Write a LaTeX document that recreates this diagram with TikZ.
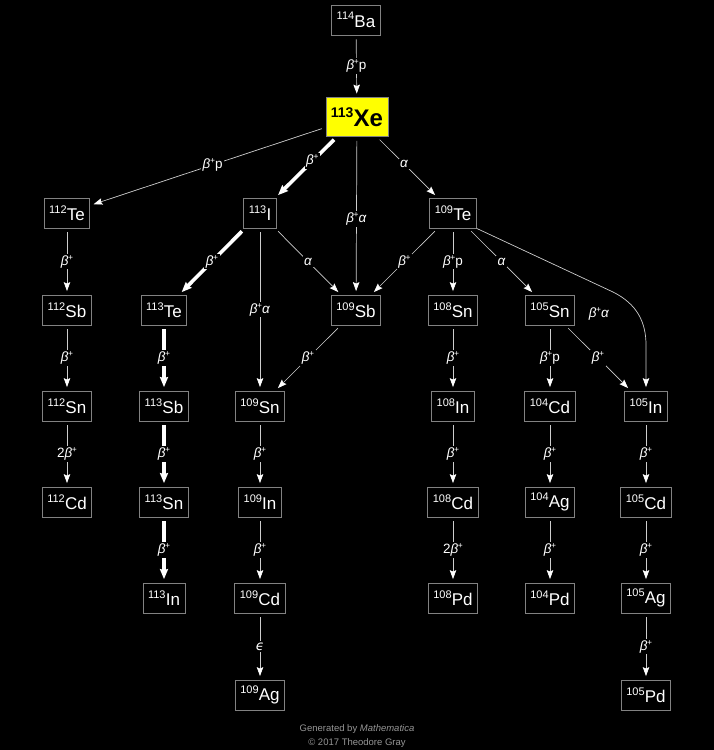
\documentclass[tikz,border=0pt]{standalone}
\usepackage{fontspec}
\setmainfont{Liberation Sans}
\newfontfamily\djv{DejaVu Sans}
\usetikzlibrary{arrows.meta}
\definecolor{edgegray}{RGB}{205,205,205}
\definecolor{boxgray}{RGB}{130,130,130}
\definecolor{footgray}{RGB}{150,150,150}
\definecolor{xeyellow}{RGB}{255,255,0}
\newcommand{\nuc}[2]{\raisebox{7.5pt}{\fontsize{11}{11}\selectfont #1}\kern0.2pt{\fontsize{17}{17}\selectfont #2}}
\newcommand{\bp}{\textit{β}\kern-0.3pt\raisebox{5pt}{\fontsize{8.5}{8.5}\selectfont +}}
\tikzset{
  nucbox/.style={draw=boxgray, fill=black, text=white, line width=0.8pt, minimum height=30pt, inner xsep=5pt, inner ysep=2pt},
  edge/.style={draw=edgegray, line width=0.7pt, -{Stealth[length=9pt,width=6.5pt,inset=1.5pt,color=white]}, shorten >=3.5pt, shorten <=4pt},
  thick edge/.style={draw=white, line width=3.6pt, -{Stealth[length=10pt,width=8pt,inset=1pt]}, shorten >=3.5pt, shorten <=4pt},
  lbl/.style={fill=black, text=white, font=\fontsize{13.5}{13.5}\selectfont, inner sep=1.5pt},
  foot/.style={text=footgray, font=\fontsize{9.5}{10}\selectfont, inner sep=0pt}
}
\begin{document}
\begin{tikzpicture}[x=1pt,y=-1pt]
\fill[black] (0,0) rectangle (714,750);
% nodes
\node[nucbox] (Ba114) at (356,20) {\nuc{114}{Ba}};
\node[draw=boxgray, fill=xeyellow, text=black, line width=0.8pt, minimum height=39pt, inner xsep=5pt, inner ysep=2pt] (Xe113) at (357,117)
  {\bfseries\raisebox{8.5pt}{\fontsize{14}{14}\selectfont 113}\kern0.2pt{\fontsize{24}{24}\selectfont Xe}};
\node[nucbox] (Te112) at (67,213) {\nuc{112}{Te}};
\node[nucbox] (I113) at (260,213) {\nuc{113}{I}};
\node[nucbox] (Te109) at (453,213) {\nuc{109}{Te}};
\node[nucbox] (Sb112) at (67,310) {\nuc{112}{Sb}};
\node[nucbox] (Te113) at (164,310) {\nuc{113}{Te}};
\node[nucbox] (Sb109) at (356,310) {\nuc{109}{Sb}};
\node[nucbox] (Sn108) at (453,310) {\nuc{108}{Sn}};
\node[nucbox] (Sn105) at (550,310) {\nuc{105}{Sn}};
\node[nucbox] (Sn112) at (67,406) {\nuc{112}{Sn}};
\node[nucbox] (Sb113) at (164,406) {\nuc{113}{Sb}};
\node[nucbox] (Sn109) at (260,406) {\nuc{109}{Sn}};
\node[nucbox] (In108) at (453,406) {\nuc{108}{In}};
\node[nucbox] (Cd104) at (550,406) {\nuc{104}{Cd}};
\node[nucbox] (In105) at (646,406) {\nuc{105}{In}};
\node[nucbox] (Cd112) at (67,502) {\nuc{112}{Cd}};
\node[nucbox] (Sn113) at (164,502) {\nuc{113}{Sn}};
\node[nucbox] (In109) at (260,502) {\nuc{109}{In}};
\node[nucbox] (Cd108) at (453,502) {\nuc{108}{Cd}};
\node[nucbox] (Ag104) at (550,502) {\nuc{104}{Ag}};
\node[nucbox] (Cd105) at (646,502) {\nuc{105}{Cd}};
\node[nucbox] (In113) at (164,598) {\nuc{113}{In}};
\node[nucbox] (Cd109) at (260,598) {\nuc{109}{Cd}};
\node[nucbox] (Pd108) at (453,598) {\nuc{108}{Pd}};
\node[nucbox] (Pd104) at (550,598) {\nuc{104}{Pd}};
\node[nucbox] (Ag105) at (646,598) {\nuc{105}{Ag}};
\node[nucbox] (Ag109) at (260,695) {\nuc{109}{Ag}};
\node[nucbox] (Pd105) at (646,695) {\nuc{105}{Pd}};
% edges
\draw[edge] (Ba114) -- node[lbl]{\bp p} (Xe113);
\draw[edge] (Xe113) -- node[lbl, pos=0.48]{\bp p} (Te112);
\draw[thick edge] (Xe113) -- node[lbl, pos=0.4]{\bp} (I113);
\draw[edge] (Xe113) -- node[lbl, pos=0.52]{\bp\textit{α}} (Sb109);
\draw[edge] (Xe113) -- node[lbl, pos=0.45]{\textit{α}} (Te109);
\draw[edge] (Te112) -- node[lbl]{\bp} (Sb112);
\draw[edge] (Sb112) -- node[lbl]{\bp} (Sn112);
\draw[edge] (Sn112) -- node[lbl]{2\bp} (Cd112);
\draw[thick edge] (I113) -- node[lbl]{\bp} (Te113);
\draw[edge] (I113) -- node[lbl]{\bp\textit{α}} (Sn109);
\draw[edge] (I113) -- node[lbl]{\textit{α}} (Sb109);
\draw[edge] (Te109) -- node[lbl]{\bp} (Sb109);
\draw[edge] (Te109) -- node[lbl]{\bp p} (Sn108);
\draw[edge] (Te109) -- node[lbl]{\textit{α}} (Sn105);
\coordinate (cA) at (613,292);
\coordinate (cB) at (646,345);
\draw[edge, shorten <=0pt] (Te109.south east) -- (cA) .. controls (637,304) and (646,322) .. (cB) -- (In105.north);
\node[text=white, font=\fontsize{13.5}{13.5}\selectfont, inner sep=0pt] (lblcurve) at (599,314) {\bp\textit{α}};
\draw[edge] (Sn105) -- node[lbl]{\bp} (In105);
\draw[edge] (Sb109) -- node[lbl]{\bp} (Sn109);
\draw[thick edge] (Te113) -- node[lbl]{\bp} (Sb113);
\draw[thick edge] (Sb113) -- node[lbl]{\bp} (Sn113);
\draw[thick edge] (Sn113) -- node[lbl]{\bp} (In113);
\draw[edge] (Sn109) -- node[lbl]{\bp} (In109);
\draw[edge] (In109) -- node[lbl]{\bp} (Cd109);
\draw[edge] (Cd109) -- node[lbl]{{\djv\itshape ϵ}} (Ag109);
\draw[edge] (Sn108) -- node[lbl]{\bp} (In108);
\draw[edge] (In108) -- node[lbl]{\bp} (Cd108);
\draw[edge] (Cd108) -- node[lbl]{2\bp} (Pd108);
\draw[edge] (Sn105) -- node[lbl]{\bp p} (Cd104);
\draw[edge] (Cd104) -- node[lbl]{\bp} (Ag104);
\draw[edge] (Ag104) -- node[lbl]{\bp} (Pd104);
\draw[edge] (In105) -- node[lbl]{\bp} (Cd105);
\draw[edge] (Cd105) -- node[lbl]{\bp} (Ag105);
\draw[edge] (Ag105) -- node[lbl]{\bp} (Pd105);
% footer
\node[foot] (gen) at (357,729) {Generated by \textit{Mathematica}};
\node[foot] (copy) at (357,743) {© 2017 Theodore Gray};
\end{tikzpicture}
\end{document}
